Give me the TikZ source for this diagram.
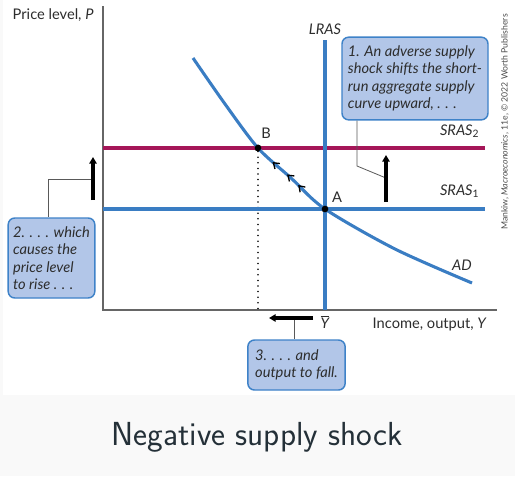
\documentclass[tikz,border=0pt]{standalone}
\usepackage{fontspec}
\setmainfont{Lato}
\usetikzlibrary{arrows.meta,positioning,calc,decorations.markings}
\definecolor{curveblue}{RGB}{58,125,195}
\definecolor{shockred}{RGB}{165,22,88}
\definecolor{notefill}{RGB}{178,198,232}
\definecolor{noteline}{RGB}{62,130,200}
\definecolor{inktext}{RGB}{45,45,45}
\definecolor{titleink}{RGB}{36,48,56}
\definecolor{bandgray}{RGB}{249,249,249}
\begin{document}
\begin{tikzpicture}[
  x=0.75pt, y=-0.75pt,
  curve/.style={draw=curveblue, line width=2.3pt},
  shifted/.style={draw=shockred, line width=2.3pt},
  axis/.style={draw=black!60, line width=0.8pt},
  note/.style={draw=noteline, fill=notefill, rounded corners=5pt, line width=1.1pt,
    align=left, inner sep=3pt, font=\itshape\fontsize{11}{13.1}\selectfont, text=inktext},
  leader/.style={draw=black!65, line width=0.6pt},
  move/.style={-{Triangle[length=5pt,width=5.5pt]}, line width=2.4pt},
  chev/.tip={Straight Barb[length=4pt, width=5.5pt, line width=1pt]},
  flow/.style={postaction={decorate}, decoration={markings,
    mark=at position 0.358 with {\arrowreversed[black]{chev}},
    mark=at position 0.410 with {\arrowreversed[black]{chev}},
    mark=at position 0.452 with {\arrowreversed[black]{chev}}}},
  dot/.style={circle, fill=black, inner sep=0pt, minimum size=5pt},
  lbl/.style={font=\fontsize{11}{13}\selectfont, text=inktext}
]
\fill[bandgray] (0,0) rectangle (515,476);
\fill[white] (3,0) rectangle (515,395);
\useasboundingbox (0,0) rectangle (515,476);
\coordinate (O) at (103,310);
\coordinate (ytop) at (103,6);
\coordinate (xend) at (497,310);
\coordinate (ltop) at (325,40);
\draw[axis] (ytop) -- (O) -- (xend);
\node[dot] (A) at (325,209) {};
\node[dot] (B) at (258,148) {};
\draw[dotted, line width=1.3pt, line cap=round, dash pattern=on 0pt off 4.2pt] (B) -- (B |- O);
\draw[curve] (103,209) -- (485,209);
\draw[shifted] (103,148) -- (485,148);
\draw[curve] (ltop) -- (ltop |- O);
\draw[curve, flow] plot[smooth] coordinates {(193,58) (225,104) (258,148) (291,178) (325,209) (395,249) (472,283)};
\node[dot] at (A) {};
\node[dot] at (B) {};
\node[lbl] (alabel) at (337,197) {A};
\node[lbl] (blabel) at (266,133) {B};
\node[lbl, font=\itshape\fontsize{11}{13}\selectfont] (lras) at (325,29) {LRAS};
\node[lbl, anchor=east] (sras2) at (484,131) {\textit{SRAS}\textsubscript{2}};
\node[lbl, anchor=east] (sras1) at (484,191) {\textit{SRAS}\textsubscript{1}};
\node[lbl, font=\itshape\fontsize{11}{13}\selectfont] (adlabel) at (462,265) {AD};
\node[lbl, font=\itshape\fontsize{11}{13}\selectfont] (ybar) at (325,322) {\(\overline{\mbox{Y}}\)};
\node[lbl, anchor=west] (plabel) at (8,15) {Price level, \textit{P}};
\node[lbl, anchor=west] (xlabel) at (368,324) {Income, output, \textit{Y}};
\node[note, minimum width=109.5pt, minimum height=62pt] (shock) at (415,78.5)
  {1. An adverse supply\\shock shifts the short-\\run aggregate supply\\curve upward, . . .};
\node[note, minimum width=65pt, minimum height=60pt] (rise) at (51.5,258)
  {2. . . . which\\causes the\\price level\\to rise . . .};
\node[note, minimum width=73pt, minimum height=37.5pt] (fall) at (296.5,365)
  {3. . . . and\\output to fall.};
\coordinate (j1) at (386,178);
\coordinate (k1) at (357,166);
\coordinate (j2) at (93,179);
\coordinate (k2) at (48,179);
\coordinate (j3) at (294,318);
\draw[leader] (shock.south -| k1) -- (k1) -- (j1);
\draw[leader] (j2) -- (k2) -- (k2 |- rise.north);
\draw[leader] (j3) -- (j3 |- fall.north);
\coordinate (u1) at (386,202);
\coordinate (u2) at (386,155);
\coordinate (v1) at (93,200);
\coordinate (v2) at (93,157);
\coordinate (w1) at (313,318);
\coordinate (w2) at (269,318);
\draw[move] (u1) -- (u2);
\draw[move] (v1) -- (v2);
\draw[move] (w1) -- (w2);
\node[rotate=90, font=\fontsize{6.5}{7}\selectfont, text=black!70] (credit) at (505,122)
  {Mankiw, \textit{Macroeconomics}, 11e, \textcopyright\ 2022 Worth Publishers};
\node[font=\sffamily\fontsize{25}{30}\selectfont, text=titleink] (title) at (257,437)
  {Negative supply shock};
\end{tikzpicture}
\end{document}
